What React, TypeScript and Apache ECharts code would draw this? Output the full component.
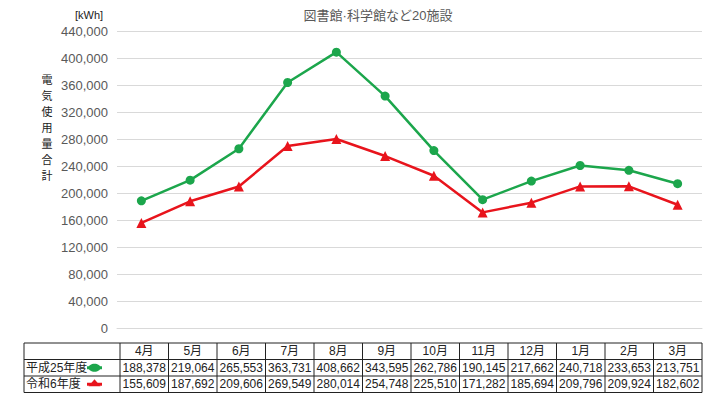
import React, { useEffect, useRef } from "react";
import * as echarts from "echarts";

const months = ["4月", "5月", "6月", "7月", "8月", "9月", "10月", "11月", "12月", "1月", "2月", "3月"];
const seriesNames = ["平成25年度", "令和6年度"];
const h25 = [188378, 219064, 265553, 363731, 408662, 343595, 262786, 190145, 217662, 240718, 233653, 213751];
const r6 = [155609, 187692, 209606, 269549, 280014, 254748, 225510, 171282, 185694, 209796, 209924, 182602];
const title = "図書館·科学館など20施設";
const unit = "[kWh]";
const yName = "電気使用量合計";

const GREEN = "#1ca64c";
const RED = "#e8141c";
const FONT = "'Liberation Sans', 'Noto Sans CJK JP', sans-serif";

function fmt(v: number) {
  return v.toLocaleString("en-US");
}

function buildTable() {
  const els: any[] = [];
  const x0 = 24;
  const xl = 120;
  const x1 = 702;
  const colW = (x1 - xl) / months.length;
  const ys = [343, 359.5, 376, 392.5];
  const lineStyle = { stroke: "#222", lineWidth: 1 };
  ys.forEach((y) => {
    els.push({ type: "line", shape: { x1: x0, y1: y, x2: x1, y2: y }, style: lineStyle, silent: true });
  });
  els.push({ type: "line", shape: { x1: x0, y1: ys[0], x2: x0, y2: ys[3] }, style: lineStyle, silent: true });
  for (let i = 0; i <= months.length; i++) {
    const x = xl + i * colW;
    els.push({ type: "line", shape: { x1: x, y1: ys[0], x2: x, y2: ys[3] }, style: lineStyle, silent: true });
  }
  const textStyle = (t: string, x: number, y: number, align: string) => ({
    type: "text",
    x,
    y,
    silent: true,
    style: {
      text: t,
      fill: "#222",
      font: `12px ${FONT}`,
      textAlign: align,
      textVerticalAlign: "middle",
    },
  });
  months.forEach((m, i) => {
    els.push(textStyle(m, xl + (i + 0.5) * colW, (ys[0] + ys[1]) / 2, "center"));
  });
  const rowsData = [h25, r6];
  rowsData.forEach((arr, r) => {
    const cy = (ys[r + 1] + ys[r + 2]) / 2;
    els.push(textStyle(seriesNames[r], 26, cy, "left"));
    arr.forEach((v, i) => {
      els.push(textStyle(fmt(v), xl + (i + 0.5) * colW, cy, "center"));
    });
  });
  const gy = (ys[1] + ys[2]) / 2;
  els.push({ type: "line", shape: { x1: 87, y1: gy, x2: 102, y2: gy }, style: { stroke: GREEN, lineWidth: 3 }, silent: true });
  els.push({ type: "ellipse", shape: { cx: 94.5, cy: gy, rx: 6, ry: 4 }, style: { fill: GREEN }, silent: true });
  const ry = (ys[2] + ys[3]) / 2;
  els.push({ type: "line", shape: { x1: 87, y1: ry, x2: 102, y2: ry }, style: { stroke: RED, lineWidth: 3 }, silent: true });
  els.push({
    type: "polygon",
    shape: { points: [[94.5, ry - 5], [100.5, ry + 2], [88.5, ry + 2]] },
    style: { fill: RED },
    silent: true,
  });
  return els;
}

function buildYName() {
  return yName.split("").map((ch, i) => ({
    type: "text",
    x: 47,
    y: 79 + i * 16,
    silent: true,
    style: {
      text: ch,
      fill: "#222",
      font: `11px 'Noto Sans CJK JP', sans-serif`,
      textAlign: "center",
      textVerticalAlign: "middle",
    },
  }));
}

export default function App() {
  const ref = useRef<HTMLDivElement>(null);
  useEffect(() => {
    if (!ref.current) return;
    const chart = echarts.init(ref.current, undefined, { renderer: "svg" });
    chart.setOption({
      animation: false,
      backgroundColor: "#ffffff",
      title: {
        text: title,
        left: 373,
        top: 4,
        textAlign: "center",
        textStyle: { fontSize: 13, fontWeight: "normal", color: "#595959", fontFamily: FONT },
      },
      grid: { left: 117, right: 8, top: 31, bottom: 67, containLabel: false },
      xAxis: {
        type: "category",
        data: months,
        boundaryGap: true,
        axisLine: { show: true, lineStyle: { color: "#d9d9d9" } },
        axisTick: { show: false },
        axisLabel: { show: false },
      },
      yAxis: {
        type: "value",
        min: 0,
        max: 440000,
        interval: 40000,
        axisLine: { show: false },
        axisTick: { show: false },
        splitLine: { lineStyle: { color: "#d9d9d9", width: 1 } },
        axisLabel: {
          margin: 9,
          color: "#595959",
          fontSize: 13,
          fontFamily: FONT,
          formatter: (v: number) => fmt(v),
        },
      },
      series: [
        {
          name: seriesNames[0],
          type: "line",
          data: h25,
          symbol: "circle",
          symbolSize: 9,
          lineStyle: { color: GREEN, width: 2.5 },
          itemStyle: { color: GREEN },
        },
        {
          name: seriesNames[1],
          type: "line",
          data: r6,
          symbol: "triangle",
          symbolSize: 10,
          lineStyle: { color: RED, width: 2.5 },
          itemStyle: { color: RED },
        },
      ],
      graphic: [
        {
          type: "text",
          x: 75,
          y: 9,
          style: { text: unit, fill: "#222", font: `11px ${FONT}` },
        },
        ...buildYName(),
        ...buildTable(),
      ],
    });
    return () => chart.dispose();
  }, []);
  return <div ref={ref} style={{ width: 710, height: 395, position: "absolute", left: 0, top: 0 }} />;
}
